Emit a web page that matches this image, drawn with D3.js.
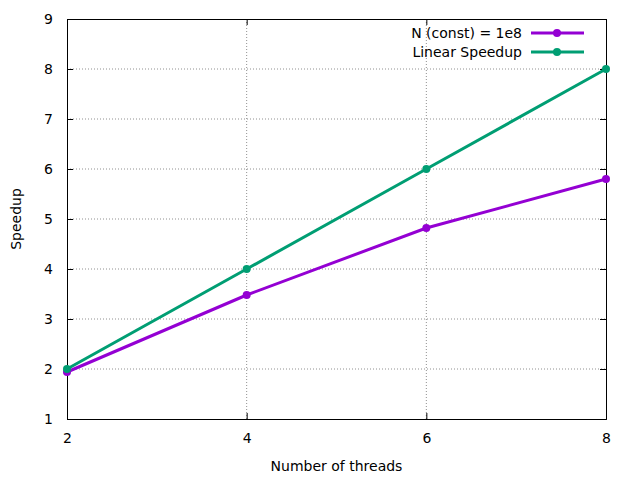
<!DOCTYPE html>
<html><head><meta charset="utf-8">
<script src="https://cdn.jsdelivr.net/npm/d3@7"></script>
<style>body{margin:0;background:#fff}text{font-family:"DejaVu Sans",sans-serif}</style>
</head><body><div id="chart"></div>
<script>
const threads = [2, 4, 6, 8];
const speedupN = [1.94, 3.48, 4.82, 5.8];
const speedupLinear = [2, 4, 6, 8];
const xTicks = [2, 4, 6, 8];
const yTicks = [1, 2, 3, 4, 5, 6, 7, 8, 9];
const seriesNames = ["N (const) = 1e8", "Linear Speedup"];
const colors = ["#9400d3", "#009e73"];

const width = 640, height = 480;
const margin = { top: 19, right: 34, bottom: 61, left: 67 };
const fs = 14;

const svg = d3.select("#chart").append("svg")
  .attr("width", width).attr("height", height);

const x = d3.scaleLinear().domain([2, 8]).range([margin.left, width - margin.right]);
const y = d3.scaleLinear().domain([1, 9]).range([height - margin.bottom, margin.top]);

// grid
svg.append("g").selectAll("line.gx").data(xTicks.slice(1, -1)).enter().append("line")
  .attr("x1", d => x(d)).attr("x2", d => x(d))
  .attr("y1", y(1)).attr("y2", y(9))
  .attr("stroke", "#909090").attr("stroke-dasharray", "1,2");
svg.append("g").selectAll("line.gy").data(yTicks.slice(1, -1)).enter().append("line")
  .attr("x1", x(2)).attr("x2", x(8))
  .attr("y1", d => y(d)).attr("y2", d => y(d))
  .attr("stroke", "#909090").attr("stroke-dasharray", "1,2");

// axes
const fmt = d3.format("d");
const xa = svg.append("g").attr("transform", `translate(0,${y(1)})`)
  .call(d3.axisBottom(x).tickValues(xTicks).tickFormat(fmt).tickSize(-6).tickPadding(14));
const xt = svg.append("g").attr("transform", `translate(0,${y(9)})`)
  .call(d3.axisTop(x).tickValues(xTicks).tickSize(-6).tickFormat(""));
const ya = svg.append("g").attr("transform", `translate(${x(2)},0)`)
  .call(d3.axisLeft(y).tickValues(yTicks).tickFormat(fmt).tickSize(-6).tickPadding(14));
const yr = svg.append("g").attr("transform", `translate(${x(8)},0)`)
  .call(d3.axisRight(y).tickValues(yTicks).tickSize(-6).tickFormat(""));
[xa, xt, ya, yr].forEach(g => {
  g.select(".domain").attr("stroke", "#000");
  g.selectAll("text").attr("font-size", fs).attr("fill", "#000")
    .style("font-family", '"DejaVu Sans",sans-serif');
});

svg.append("text").attr("x", (x(2) + x(8)) / 2).attr("y", 471)
  .attr("text-anchor", "middle").attr("font-size", fs).text("Number of threads");
svg.append("text").attr("transform", `translate(21,${(y(1) + y(9)) / 2}) rotate(-90)`)
  .attr("text-anchor", "middle").attr("font-size", fs).text("Speedup");

const series = [speedupN, speedupLinear];
const line = d3.line().x((d, i) => x(threads[i])).y(d => y(d));
series.forEach((s, k) => {
  svg.append("path").datum(s).attr("d", line)
    .attr("fill", "none").attr("stroke", colors[k]).attr("stroke-width", 3);
  svg.selectAll(`circle.s${k}`).data(s).enter().append("circle")
    .attr("cx", (d, i) => x(threads[i])).attr("cy", d => y(d))
    .attr("r", 4).attr("fill", colors[k]);
});

// legend
seriesNames.forEach((n, k) => {
  const ly = 33 + k * 19;
  svg.append("text").attr("x", 522).attr("y", ly + 5).attr("text-anchor", "end")
    .attr("font-size", fs).text(n);
  svg.append("line").attr("x1", 531).attr("x2", 584).attr("y1", ly).attr("y2", ly)
    .attr("stroke", colors[k]).attr("stroke-width", 3);
  svg.append("circle").attr("cx", 557).attr("cy", ly).attr("r", 4).attr("fill", colors[k]);
});
</script></body></html>
